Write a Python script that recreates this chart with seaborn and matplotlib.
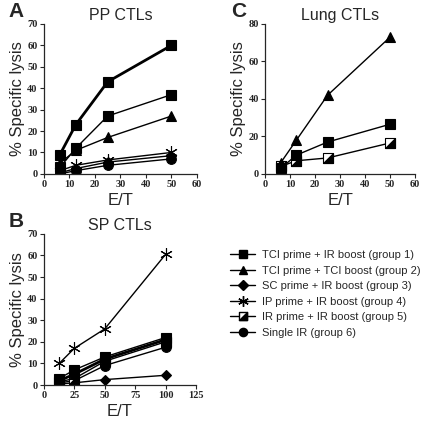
import numpy as np
import pandas as pd
import matplotlib.pyplot as plt
import seaborn as sns
from matplotlib.lines import Line2D
from matplotlib.path import Path

# --- data ---
groups = ["TCI prime + IR boost (group 1)", "TCI prime + TCI boost (group 2)",
          "SC prime + IR boost (group 3)", "IP prime + IR boost (group 4)",
          "IR prime + IR boost (group 5)", "Single IR (group 6)"]

et_pp = [6.25, 12.5, 25, 50]
pp_g1 = [9, 23, 43, 60]
pp_g2 = [5, 11, 17, 27]
pp_g3 = [0.5, 2.5, 5.5, 8.5]
pp_g4 = [1.5, 4, 6.5, 10]
pp_g5 = [3, 12, 27, 37]
pp_g6 = [0, 1.5, 4, 7]

et_sp = [12.5, 25, 50, 100]
sp_g1 = [3, 7, 13, 22]
sp_g2 = [2, 5, 12, 21]
sp_g3 = [0.5, 1, 2.5, 4.5]
sp_g4 = [10, 17, 26, 60.5]
sp_g5 = [1.5, 3, 11, 20]
sp_g6 = [1, 2, 9, 17.5]

et_lung = [6.25, 12.5, 25, 50]
lung_g1 = [3, 10, 17, 26.5]
lung_g2 = [6, 18, 42, 73]
lung_g5 = [4, 7, 8.5, 16.5]

sns.set_style("ticks")

sq = Path([(-1, -1), (1, -1), (1, 1), (-1, 1), (-1, -1)], closed=True)
half = Path([(-1, -1), (1, -1), (1, 1), (-1, -1)], closed=True)

styles = {
    1: dict(marker="s", mfc="black"),
    2: dict(marker="^", mfc="black"),
    3: dict(marker="D", mfc="black"),
    4: dict(marker=(6, 2, 0), mfc="black"),
    5: dict(marker=sq, mfc="white"),
    6: dict(marker="o", mfc="black"),
}
msize = {1: 7, 2: 7.5, 3: 5.5, 4: 9, 5: 7, 6: 7}

tick_font = dict(family="Liberation Serif", weight="bold", size=7.5)
sans = "Liberation Sans"


def draw(ax, x, series, xlim, xticks, ylim, yticks, title, thick=None, solid5=False):
    for g, y in series:
        df = pd.DataFrame({"E/T": x, "lysis": y})
        st = styles[1] if (g == 5 and solid5) else styles[g]
        lw = 2.0 if g == thick else 1.0
        sns.lineplot(data=df, x="E/T", y="lysis", ax=ax, color="black", lw=lw,
                     marker=st["marker"], markersize=msize[g], markerfacecolor=st["mfc"],
                     markeredgecolor="black", markeredgewidth=0.8)
        if g == 5 and not solid5:
            ax.plot(x, y, ls="none", marker=half, markersize=msize[g],
                    markerfacecolor="black", markeredgecolor="black",
                    markeredgewidth=0.8)
    ax.set_xlim(*xlim)
    ax.set_ylim(*ylim)
    ax.set_xticks(xticks)
    ax.set_yticks(yticks)
    for lab in ax.get_xticklabels() + ax.get_yticklabels():
        lab.set_fontproperties(tick_font)
    ax.tick_params(length=3, width=0.8, pad=1.5)
    for s in ("left", "bottom"):
        ax.spines[s].set_linewidth(0.9)
    sns.despine(ax=ax)
    ax.set_title(title, family=sans, fontsize=11.5, pad=3)
    ax.set_xlabel("E/T", family=sans, fontsize=12, labelpad=2.5)
    ax.set_ylabel("% Specific lysis", family=sans, fontsize=12, labelpad=2)


fig = plt.figure(figsize=(4.27, 4.21), dpi=100)
axA = fig.add_axes([0.103, 0.587, 0.358, 0.356])
axC = fig.add_axes([0.621, 0.587, 0.351, 0.356])
axB = fig.add_axes([0.103, 0.0855, 0.356, 0.359])

draw(axA, et_pp, [(6, pp_g6), (3, pp_g3), (4, pp_g4), (2, pp_g2), (5, pp_g5), (1, pp_g1)],
     (0, 60), range(0, 61, 10), (0, 70), range(0, 71, 10), "PP CTLs", thick=1, solid5=True)
draw(axB, et_sp, [(3, sp_g3), (6, sp_g6), (5, sp_g5), (2, sp_g2), (1, sp_g1), (4, sp_g4)],
     (0, 125), [0, 25, 50, 75, 100, 125], (0, 70), range(0, 71, 10), "SP CTLs", thick=2)
draw(axC, et_lung, [(5, lung_g5), (1, lung_g1), (2, lung_g2)],
     (0, 60), range(0, 61, 10), (0, 80), range(0, 81, 20), "Lung CTLs")

for ax, letter in ((axA, "A"), (axB, "B"), (axC, "C")):
    ax.text(-0.18, 1.02, letter, transform=ax.transAxes, family=sans,
            weight="bold", fontsize=15, ha="center", va="bottom")

handles = []
for g in range(1, 7):
    st = styles[g]
    h = [Line2D([], [], color="black", lw=1, marker=st["marker"],
                markersize=msize[g] * 0.85, markerfacecolor=st["mfc"],
                markeredgecolor="black")]
    if g == 5:
        h.append(Line2D([], [], ls="none", marker=half, markersize=msize[g] * 0.85,
                        markerfacecolor="black", markeredgecolor="black"))
        h = tuple(h)
    else:
        h = h[0]
    handles.append(h)
leg = fig.legend(handles, groups, loc="upper left", bbox_to_anchor=(0.515, 0.43),
                 frameon=False, handlelength=2.3, handletextpad=0.6,
                 labelspacing=0.5, prop=dict(family=sans, size=8))

fig.savefig("out.png", dpi=100)
